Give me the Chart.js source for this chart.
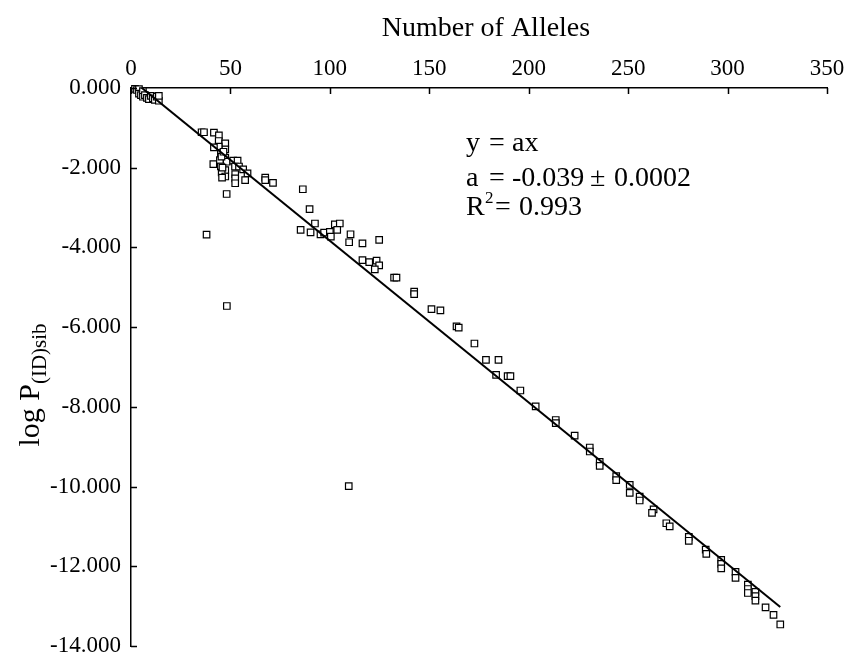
<!DOCTYPE html>
<html>
<head>
<meta charset="utf-8">
<style>
  html, body { margin: 0; padding: 0; background: #fff; }
  #wrap { width: 847px; height: 661px; }
</style>
<script src="https://cdn.jsdelivr.net/npm/chart.js@4.4.1/dist/chart.umd.min.js"></script>
</head>
<body>
<div id="wrap"><canvas id="myChart" width="847" height="661"></canvas></div>
<script>
// number of alleles per marker set, and log P(ID)sib
const numAlleles = [
  2, 3, 4, 4, 5, 6, 6, 7, 8, 9, 10, 11, 12, 13, 14, 14,
  35.5, 36.7, 41.7, 44.2, 44.1, 47.4, 47.4, 44.1, 45.2, 41.7, 41.4, 47.4, 48.1, 44.7, 45.2, 47.4,
  45.6, 47.4, 45.5, 46, 46.5, 45.8, 51.4, 53.6, 52.3, 54.3, 56.4, 58.6, 52.4, 52.4, 52.4, 57.4,
  67.5, 67.5, 71.4, 86.4, 48.1, 89.8, 38, 48.2, 109.5,
  92.5, 85.3, 90.3, 95.3, 97.1, 100, 100.5, 102.5, 105, 103.7, 110.4, 109.7, 116.4, 124.8,
  116.4, 119.8, 123.5, 124.8, 122.6, 132.3, 133.5, 142.4, 142.4, 151.1, 155.6,
  163.7, 164.8, 172.7, 178.5, 184.8, 183.6, 189.4, 190.8, 195.8, 203.5,
  213.6, 213.6, 223.1, 230.7, 230.7, 235.7, 235.7, 244, 244, 250.8, 250.8, 255.8, 255.8,
  262.8, 262, 269.2, 270.9, 280.5, 280.5, 289, 289.3, 296.8, 296.8, 296.8, 304, 304,
  310.2, 310.2, 310.2, 314, 314, 314, 319.1, 323.1, 326.5
];
const logPsib = [
  -0.02, -0.05, -0.03, -0.14, -0.18, -0.08, -0.22, -0.18, -0.25, -0.28, -0.2, -0.26, -0.3, -0.22, -0.32, -0.2,
  -1.11, -1.11, -1.12, -1.19, -1.33, -1.39, -1.54, -1.47, -1.64, -1.49, -1.91, -1.75, -1.85, -1.81, -1.97, -2.06,
  -2.12, -2.22, -1.72, -2.0, -1.6, -2.25, -1.82, -1.82, -1.97, -1.97, -2.04, -2.14, -2.16, -2.27, -2.39, -2.31,
  -2.25, -2.31, -2.38, -2.54, -2.66, -3.04, -3.68, -5.47, -9.99,
  -3.4, -3.56, -3.62, -3.67, -3.63, -3.61, -3.73, -3.42, -3.4, -3.56, -3.67, -3.87, -3.9, -3.81,
  -4.32, -4.37, -4.33, -4.45, -4.55, -4.76, -4.76, -5.11, -5.17, -5.55, -5.58,
  -5.98, -6.01, -6.41, -6.82, -6.82, -7.2, -7.23, -7.23, -7.59, -7.99,
  -8.33, -8.41, -8.72, -9.02, -9.12, -9.38, -9.48, -9.74, -9.84, -9.96, -10.16, -10.25, -10.35,
  -10.57, -10.66, -10.92, -11.0, -11.26, -11.36, -11.58, -11.69, -11.84, -11.94, -12.05, -12.14, -12.29,
  -12.46, -12.57, -12.67, -12.64, -12.75, -12.86, -13.03, -13.22, -13.46
];

// regression line end points
const fitX = [5, 326.5];
const fitY = [0.02, -13.02];

const xTicks = [0, 50, 100, 150, 200, 250, 300, 350];
const yTicks = [0, -2, -4, -6, -8, -10, -12, -14];

const serif = "'Liberation Serif', 'Times New Roman', serif";

const decorations = {
  id: 'decorations',
  afterDraw(chart) {
    const ctx = chart.ctx;
    const xs = chart.scales.x;
    const ys = chart.scales.y;
    const area = chart.chartArea;
    ctx.save();
    ctx.strokeStyle = '#000';
    ctx.lineWidth = 1.5;
    ctx.beginPath();
    xs.ticks.forEach(t => {
      const px = Math.round(xs.getPixelForValue(t.value)) + 0.5;
      ctx.moveTo(px, area.top);
      ctx.lineTo(px, area.top + 6);
    });
    ys.ticks.forEach(t => {
      const py = Math.round(ys.getPixelForValue(t.value)) + 0.5;
      ctx.moveTo(area.left, py);
      ctx.lineTo(area.left + 6, py);
    });
    ctx.stroke();

    // y axis title with subscript
    ctx.fillStyle = '#000';
    ctx.textAlign = 'left';
    ctx.textBaseline = 'alphabetic';
    ctx.translate(39, 385);
    ctx.rotate(-Math.PI / 2);
    ctx.font = '30px ' + serif;
    const w1 = ctx.measureText('log P').width;
    ctx.font = '21px ' + serif;
    const w2 = ctx.measureText('(ID)sib').width;
    const x0 = -(w1 + w2) / 2;
    ctx.font = '30px ' + serif;
    ctx.fillText('log P', x0, 0);
    ctx.font = '21px ' + serif;
    ctx.fillText('(ID)sib', x0 + w1, 7);
    ctx.setTransform(1, 0, 0, 1, 0, 0);

    // x axis title, a little right of the scale centre as in the figure
    ctx.font = '28px ' + serif;
    ctx.textAlign = 'center';
    ctx.fillText('Number of Alleles', 486, 36);
    ctx.textAlign = 'left';

    // fit annotation
    const left = area.left + 335;
    ctx.font = '28px ' + serif;
    ctx.fillText('y', left, 151);
    ctx.fillText('=', left + 23, 151);
    ctx.fillText('ax', left + 46, 151);
    ctx.fillText('a', left, 186);
    ctx.fillText('=', left + 23, 186);
    ctx.fillText('-0.039', left + 46, 186);
    ctx.fillText('\u00B1', left + 124, 186);
    ctx.fillText('0.0002', left + 148, 186);
    ctx.fillText('R', left, 215);
    ctx.font = '17px ' + serif;
    ctx.fillText('2', left + 19, 203);
    ctx.font = '28px ' + serif;
    ctx.fillText('=', left + 29, 215);
    ctx.fillText('0.993', left + 53, 215);
    ctx.restore();
  }
};

function initChart() {
  const ctx = document.getElementById('myChart').getContext('2d');
  return new Chart(ctx, {
    type: 'scatter',
    data: {
      datasets: [{
        label: 'fit',
        type: 'line',
        data: fitX.map((x, i) => ({ x: x, y: fitY[i] })),
        borderColor: '#000',
        borderWidth: 2,
        pointRadius: 0,
        fill: false,
        order: 0
      }, {
        label: 'log P(ID)sib',
        data: numAlleles.map((x, i) => ({ x: x, y: logPsib[i] })),
        pointStyle: 'rect',
        pointRadius: 4.6,
        backgroundColor: '#fff',
        borderColor: '#000',
        borderWidth: 1.2,
        clip: 10,
        order: 1
      }]
    },
    options: {
      responsive: false,
      animation: false,
      devicePixelRatio: 1,
      layout: { padding: { left: 0, top: 0, right: 20, bottom: 15 } },
      plugins: {
        legend: { display: false },
        tooltip: { enabled: false }
      },
      scales: {
        x: {
          type: 'linear',
          position: 'top',
          min: 0,
          max: 350,
          afterBuildTicks: s => { s.ticks = xTicks.map(v => ({ value: v })); },
          afterFit: s => { s.height = 88; s.paddingLeft = 0; s.paddingRight = 0; },
          grid: { drawOnChartArea: false, drawTicks: false },
          border: { display: true, color: '#000', width: 1.5 },
          ticks: { color: '#000', font: { family: serif, size: 23 }, padding: 5 }
        },
        y: {
          type: 'linear',
          min: -14,
          max: 0,
          afterBuildTicks: s => { s.ticks = yTicks.map(v => ({ value: v })); },
          afterFit: s => { s.width = 131; s.paddingTop = 0; s.paddingBottom = 0; },
          grid: { drawOnChartArea: false, drawTicks: false },
          border: { display: true, color: '#000', width: 1.5 },
          ticks: {
            color: '#000',
            font: { family: serif, size: 23 },
            padding: 10,
            callback: v => v.toFixed(3)
          }
        }
      }
    },
    plugins: [decorations]
  });
}

document.addEventListener('DOMContentLoaded', function() {
  initChart();
});
</script>
</body>
</html>
